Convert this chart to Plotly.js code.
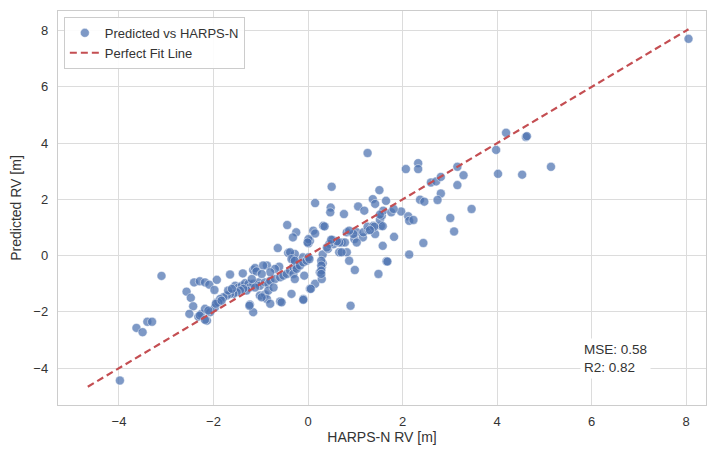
<!DOCTYPE html>
<html>
<head>
<meta charset="utf-8">
<script src="https://cdn.plot.ly/plotly-3.0.1.min.js"></script>
<style>
html,body{margin:0;padding:0;background:#fff;}
#chart{width:710px;height:450px;}
</style>
</head>
<body>
<div id="chart"></div>
<script>
// HARPS-N RV (x) and predicted RV (y)
const harpsRV = [
 -3.98,-3.10,-3.63,-3.50,-3.40,-3.30,
 -2.57,-2.48,-2.43,-2.51,-2.41,-2.29,-2.18,-2.09,-1.98,-1.93,-2.32,-2.26,-2.18,-2.14,-2.07,-1.93,-1.97,-2.29,-2.18,-2.11,
 -1.54,-1.47,-1.40,-1.33,-1.26,-1.23,-1.30,-1.37,-1.44,-1.51,-1.58,-1.65,-1.72,-1.79,-1.86,-1.90,-1.95,-1.83,-1.69,-1.61,
 -1.16,-1.05,-1.02,-1.12,-1.19,-0.91,-0.84,-0.80,-0.70,-0.59,-0.52,-0.45,-0.38,-0.31,-0.24,
 -1.65,-1.38,-1.16,-1.12,-0.87,-0.64,-0.42,-0.31,-0.11,0.01,0.04,-0.61,-0.70,-0.80,-0.95,-1.09,-0.98,-0.28,-0.25,
 -1.02,-0.91,-0.87,-0.84,-0.73,-1.23,-1.16,-0.98,-0.80,-0.59,-0.35,-0.56,-1.24,-0.10,-0.10,
 0.04,0.15,0.29,0.25,0.29,0.31,0.31,0.42,0.54,0.66,-0.38,-0.35,-0.28,-0.31,-0.24,-0.17,-0.10,-0.03,0.01,-0.08,-0.28,0.06,
 0.01,0.32,0.11,0.15,0.28,0.28,0.28,0.28,0.52,0.45,0.40,0.71,0.82,0.87,0.99,0.90,1.49,1.66,
 1.03,0.98,1.16,1.17,1.28,1.26,1.38,1.42,1.54,1.52,0.78,0.66,0.82,0.96,1.56,1.59,1.65,
 0.15,0.48,0.47,0.76,1.06,1.19,1.37,1.42,1.51,0.50,-0.25,-0.32,-0.44,0.35,
 1.26,2.07,2.33,2.33,3.16,3.29,3.16,2.60,2.71,2.81,2.81,2.74,2.37,2.46,3.46,3.01,3.09,2.44,2.14,
 1.97,2.12,2.14,2.23,1.76,1.81,1.52,1.58,1.40,1.31,1.82,1.58,1.68,
 3.98,4.19,4.61,4.63,4.02,4.53,5.14,8.05,
 0.87,0.61,1.03,0.49,-0.01,0.03,0.71
];
const predictedRV = [
 -4.44,-0.72,-2.57,-2.72,-2.35,-2.35,
 -1.28,-1.50,-1.80,-2.07,-0.95,-0.91,-0.95,-1.03,-1.22,-0.86,-2.17,-2.07,-1.89,-2.31,-2.01,-1.66,-1.84,-2.13,-2.28,-1.95,
 -1.07,-1.13,-1.07,-0.98,-1.00,-1.13,-1.24,-1.18,-1.24,-1.30,-1.36,-1.36,-1.42,-1.48,-1.54,-1.66,-1.71,-1.60,-1.24,-1.18,
 -1.00,-0.95,-1.07,-1.13,-0.83,-0.95,-1.00,-0.89,-0.83,-0.77,-0.71,-0.65,-0.53,-0.42,-0.35,
 -0.67,-0.63,-0.51,-0.44,-0.35,0.27,0.10,-0.12,-0.06,0.44,0.53,-0.39,-0.47,-0.59,-0.35,-0.56,-0.65,0.06,-0.42,
 -1.42,-1.38,-1.54,-1.24,-1.13,-1.74,-2.01,-1.48,-1.71,-1.63,-1.36,-1.66,-1.78,-1.54,-1.57,
 -1.18,-1.00,-0.83,-0.59,-0.41,-0.27,0.04,0.24,0.41,0.12,0.12,-0.12,-0.18,-0.65,-0.47,-0.35,-0.24,-0.18,-0.06,-0.71,-0.83,-1.18,
 0.59,1.06,0.89,0.79,-0.18,-0.35,-0.53,-0.65,0.56,0.42,0.29,0.47,0.12,-0.18,-0.51,-1.78,-0.65,-0.20,
 0.83,0.59,0.65,0.83,0.91,1.03,1.06,0.77,1.06,1.27,0.47,0.47,0.83,0.77,1.42,1.60,1.95,
 1.87,1.71,1.54,1.48,1.75,1.60,2.01,1.84,2.33,2.45,0.83,0.65,1.09,1.04,
 3.65,3.08,3.29,3.08,3.16,2.86,2.51,2.60,2.64,2.80,2.21,1.98,1.99,1.92,1.66,1.34,0.86,0.45,0.04,
 1.57,1.40,1.24,1.27,1.54,1.66,1.46,1.05,1.03,0.91,0.67,0.35,-0.21,
 3.76,4.37,4.22,4.25,2.91,2.88,3.16,7.71,
 0.89,0.51,0.47,0.57,0.47,-0.12,0.12
];
const fitLine = [-4.66, 8.05];
const xTicks = [-4, -2, 0, 2, 4, 6, 8];
const yTicks = [-4, -2, 0, 2, 4, 6, 8];
const statsText = "MSE: 0.58<br>R2: 0.82";

const font = "Liberation Sans, Arial, sans-serif";

const traces = [
  {
    x: harpsRV, y: predictedRV, type: "scatter", mode: "markers",
    name: "Predicted vs HARPS-N",
    marker: {size: 9, color: "rgba(76,114,176,0.72)", line: {color: "rgba(255,255,255,0.8)", width: 0.6}}
  },
  {
    x: fitLine, y: fitLine, type: "scatter", mode: "lines",
    name: "Perfect Fit Line",
    line: {color: "#c44e52", width: 2.2, dash: "7px,4px"}
  }
];

const axisCommon = {
  showgrid: true, gridcolor: "#dcdcdc", gridwidth: 1,
  zeroline: false, showline: true, mirror: true, linecolor: "#cccccc", linewidth: 1.2,
  ticks: "", tickfont: {family: font, size: 13, color: "#333"}
};

const layout = {
  width: 710, height: 450,
  margin: {l: 58, r: 4, t: 11, b: 45},
  paper_bgcolor: "#fff", plot_bgcolor: "#fff",
  font: {family: font, color: "#333"},
  xaxis: Object.assign({}, axisCommon, {
    range: [-5.29, 8.42], tickvals: xTicks, ticklabelstandoff: 4,
    title: {text: "HARPS-N RV [m]", font: {family: font, size: 14, color: "#333"}, standoff: 4}
  }),
  yaxis: Object.assign({}, axisCommon, {
    range: [-5.31, 8.70], tickvals: yTicks, ticklabelstandoff: 6,
    title: {text: "Predicted RV [m]", font: {family: font, size: 14, color: "#333"}, standoff: 8}
  }),
  showlegend: true,
  legend: {
    x: 0.009, y: 0.985, xanchor: "left", yanchor: "top",
    bgcolor: "rgba(255,255,255,0.9)", bordercolor: "#cccccc", borderwidth: 1,
    font: {family: font, size: 13, color: "#333"},
    tracegroupgap: 0
  },
  annotations: [{
    xref: "paper", yref: "paper", x: 0.806, y: 0.117, xanchor: "left", yanchor: "middle",
    text: statsText, showarrow: false, align: "left",
    font: {family: font, size: 13.5, color: "#333"},
    bgcolor: "#ffffff", borderpad: 3
  }]
};

Plotly.newPlot("chart", traces, layout, {displayModeBar: false, staticPlot: true});
</script>
</body>
</html>
